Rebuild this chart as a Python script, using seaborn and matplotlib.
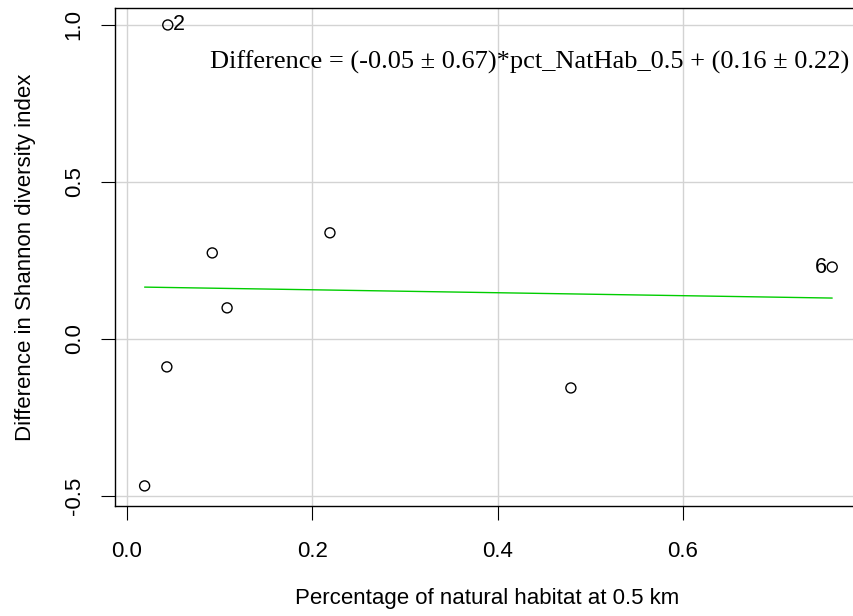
import numpy as np
import pandas as pd
import matplotlib
matplotlib.use("Agg")
import matplotlib.pyplot as plt
import seaborn as sns

# data
pct_nathab = [0.019, 0.043, 0.044, 0.092, 0.108, 0.219, 0.479, 0.761]
difference = [-0.468, -0.089, 1.000, 0.274, 0.099, 0.338, -0.156, 0.229]
point_ids = ["", "", "2", "", "", "", "", "6"]
fit_coef = [0.166, -0.047]  # intercept, slope of the drawn regression line
xticks = [0.0, 0.2, 0.4, 0.6]
yticks = [-0.5, 0.0, 0.5, 1.0]
equation = "Difference = (-0.05 \u00b1 0.67)*pct_NatHab_0.5 + (0.16 \u00b1 0.22)"
xlabel = "Percentage of natural habitat at 0.5 km"
ylabel = "Difference in Shannon diversity index"

df = pd.DataFrame({"x": pct_nathab, "y": difference, "id": point_ids})

sns.set_style("white")
plt.rcParams["font.family"] = ["Liberation Sans", "DejaVu Sans"]
plt.rcParams["text.color"] = "black"
plt.rcParams["axes.labelcolor"] = "black"
plt.rcParams["xtick.color"] = "black"
plt.rcParams["ytick.color"] = "black"

W, H = 854, 616
fig = plt.figure(figsize=(W / 100, H / 100), dpi=100)
left, right, top, bottom = 114.5, 860, 8, 506
ax = fig.add_axes([left / W, 1 - bottom / H, (right - left) / W, (bottom - top) / H])

ax.set_xlim(-0.0135, 0.791)
ax.set_ylim(-0.532, 1.054)

# grid
for xt in xticks:
    ax.axvline(xt, color="#D3D3D3", lw=1.0, zorder=0)
for yt in yticks:
    ax.axhline(yt, color="#D3D3D3", lw=1.0, zorder=0)

sns.scatterplot(data=df, x="x", y="y", ax=ax, marker="o", s=52,
                facecolor="none", edgecolor="black", linewidth=1.0, zorder=3)

# fitted regression line
xs = np.array([min(pct_nathab), max(pct_nathab)])
line_df = pd.DataFrame({"x": xs, "y": fit_coef[0] + fit_coef[1] * xs})
sns.lineplot(data=line_df, x="x", y="y", ax=ax, color="#00CD00", lw=1.0, zorder=2)

for xi, yi, lab in zip(pct_nathab, difference, point_ids):
    if lab == "2":
        ax.annotate(lab, (xi, yi), xytext=(4, 0), textcoords="offset points",
                    ha="left", va="center", fontsize=15.5)
    elif lab == "6":
        ax.annotate(lab, (xi, yi), xytext=(-4, 0), textcoords="offset points",
                    ha="right", va="center", fontsize=15.5)

ax.text(0.128, 0.8916, equation, fontsize=19, family=["Liberation Serif", "DejaVu Serif"],
        ha="left", va="center", transform=ax.transAxes)

ax.set_xticks(xticks)
ax.set_xticklabels([f"{v:.1f}" for v in xticks], fontsize=16)
ax.set_yticks(yticks)
ax.set_yticklabels([f"{v:.1f}" for v in yticks], fontsize=16, rotation=90, va="center")
ax.tick_params(axis="both", direction="out", length=10, width=0.8, color="black",
               bottom=True, left=True, top=False, right=False)
ax.tick_params(axis="x", pad=15)
ax.tick_params(axis="y", pad=11.5)

for s in ax.spines.values():
    s.set_visible(True)
    s.set_color("black")
    s.set_linewidth(1.0)

ax.set_xlabel(xlabel, fontsize=16, labelpad=19)
ax.set_ylabel(ylabel, fontsize=16, labelpad=20)

fig.savefig("out.png", dpi=100)
